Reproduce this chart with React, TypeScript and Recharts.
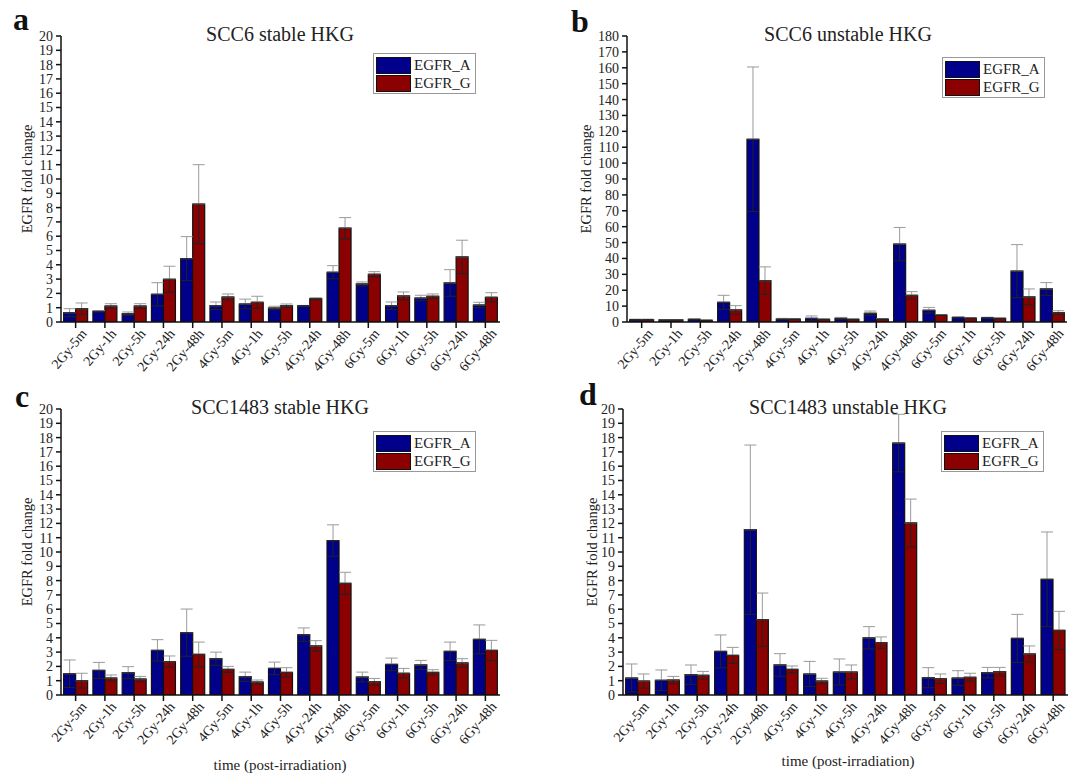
import { BarChart, Bar, XAxis, YAxis, Legend, ErrorBar } from "recharts";

const FONT = '"Liberation Serif", "Times New Roman", serif';
const BLUE = "#00008b";
const RED = "#8b0000";

const categories = [
  "2Gy-5m", "2Gy-1h", "2Gy-5h", "2Gy-24h", "2Gy-48h",
  "4Gy-5m", "4Gy-1h", "4Gy-5h", "4Gy-24h", "4Gy-48h",
  "6Gy-5m", "6Gy-1h", "6Gy-5h", "6Gy-24h", "6Gy-48h",
];

const ticks20 = [0, 1, 2, 3, 4, 5, 6, 7, 8, 9, 10, 11, 12, 13, 14, 15, 16, 17, 18, 19, 20];
const ticks180 = [0, 10, 20, 30, 40, 50, 60, 70, 80, 90, 100, 110, 120, 130, 140, 150, 160, 170, 180];

// a: SCC6 stable HKG
const aMeanA = [0.65, 0.75, 0.58, 1.94, 4.43, 1.14, 1.26, 0.98, 1.14, 3.48, 2.66, 1.14, 1.68, 2.73, 1.19];
const aErrA = [0.28, 0.05, 0.12, 0.81, 1.54, 0.26, 0.34, 0.12, 0.02, 0.46, 0.14, 0.26, 0.19, 0.93, 0.19];
const aMeanG = [0.93, 1.12, 1.12, 2.99, 8.24, 1.75, 1.38, 1.14, 1.63, 6.56, 3.34, 1.82, 1.8, 4.55, 1.73];
const aErrG = [0.4, 0.16, 0.16, 0.91, 2.76, 0.21, 0.42, 0.12, 0.07, 0.74, 0.18, 0.28, 0.16, 1.17, 0.32];

// b: SCC6 unstable HKG
const bMeanA = [1.5, 1.3, 1.7, 12.4, 115, 1.9, 2.3, 2.3, 5.5, 49, 7.4, 2.9, 2.7, 32, 20.8];
const bErrA = [0.3, 0.2, 0.3, 4.4, 45.5, 0.4, 1.5, 0.6, 1.4, 10.5, 1.8, 0.3, 0.3, 16.7, 4.0];
const bMeanG = [1.5, 1.3, 1.1, 7.6, 26, 1.9, 1.7, 1.7, 1.9, 16.8, 4.4, 2.5, 2.3, 15.8, 5.9];
const bErrG = [0.3, 0.2, 0.2, 2.7, 8.7, 0.3, 0.3, 0.3, 0.3, 2.3, 0.3, 0.3, 0.3, 5.0, 1.2];

// c: SCC1483 stable HKG
const cMeanA = [1.49, 1.72, 1.56, 3.12, 4.36, 2.54, 1.28, 1.86, 4.22, 10.8, 1.26, 2.14, 2.1, 3.05, 3.89];
const cErrA = [0.96, 0.56, 0.42, 0.75, 1.65, 0.46, 0.32, 0.44, 0.47, 1.1, 0.34, 0.44, 0.32, 0.65, 1.01];
const cMeanG = [1.0, 1.19, 1.12, 2.33, 2.84, 1.79, 0.91, 1.58, 3.43, 7.81, 0.93, 1.52, 1.58, 2.24, 3.12];
const cErrG = [0.52, 0.21, 0.18, 0.4, 0.86, 0.21, 0.14, 0.33, 0.37, 0.77, 0.23, 0.34, 0.19, 0.3, 0.7];

// d: SCC1483 unstable HKG
const dMeanA = [1.19, 1.03, 1.42, 3.05, 11.56, 2.1, 1.47, 1.61, 4.0, 17.62, 1.21, 1.19, 1.56, 3.96, 8.09];
const dErrA = [0.98, 0.72, 0.68, 1.15, 5.92, 0.79, 0.88, 0.91, 0.78, 2.01, 0.7, 0.51, 0.37, 1.68, 3.31];
const dMeanG = [0.98, 1.05, 1.38, 2.77, 5.27, 1.79, 0.98, 1.61, 3.66, 12.03, 1.14, 1.24, 1.63, 2.87, 4.52];
const dErrG = [0.49, 0.25, 0.27, 0.56, 1.86, 0.24, 0.19, 0.49, 0.4, 1.67, 0.33, 0.28, 0.3, 0.56, 1.33];

const series = [
  { name: "EGFR_A", color: BLUE },
  { name: "EGFR_G", color: RED },
];

const buildRows = (ma: number[], ea: number[], mg: number[], eg: number[]) =>
  categories.map((cat, i) => ({
    cat,
    a: ma[i],
    g: mg[i],
    aUp: [0, ea[i]],
    aDown: [ea[i], 0],
    gUp: [0, eg[i]],
    gDown: [eg[i], 0],
  }));

const RotTick = (props: any) => {
  const { x, y, payload } = props;
  const tx = x + 12;
  const ty = y + 4;
  return (
    <g>
      <text
        x={tx}
        y={ty}
        transform={`rotate(-50 ${tx} ${ty})`}
        textAnchor="end"
        fontSize={14}
        fontFamily={FONT}
        fill="#222"
      >
        {payload.value}
      </text>
    </g>
  );
};

const BoxLegend = () => (
  <div
    style={{
      border: "1px solid #999",
      background: "#fff",
      padding: "2px 4px 1px 2px",
      width: 95,
    }}
  >
    {series.map((s) => (
      <div key={s.name} style={{ display: "flex", alignItems: "center", height: 18 }}>
        <span
          style={{
            display: "inline-block",
            width: 35,
            height: 17,
            background: s.color,
            border: "1.5px solid #111",
            boxSizing: "border-box",
          }}
        />
        <span style={{ marginLeft: 3, fontSize: 15, fontFamily: FONT, color: "#222", lineHeight: "18px" }}>
          {s.name}
        </span>
      </div>
    ))}
  </div>
);

type PanelProps = {
  left: number;
  top: number;
  width: number;
  height: number;
  plotLeft: number;
  plotRight: number;
  plotTop: number;
  plotBottom: number;
  yMax: number;
  yTicks: number[];
  rows: any[];
  legendX: number;
  legendY: number;
};

const Panel = (p: PanelProps) => (
  <div style={{ position: "absolute", left: p.left, top: p.top }}>
    <BarChart
      width={p.width}
      height={p.height}
      data={p.rows}
      margin={{ top: p.plotTop - p.top, right: p.left + p.width - p.plotRight, left: 0, bottom: 0 }}
      barCategoryGap="9%"
      barGap={0}
    >
      <XAxis
        dataKey="cat"
        interval={0}
        height={p.top + p.height - p.plotBottom}
        tick={RotTick}
        tickSize={6}
        tickMargin={2}
        tickLine={{ stroke: "#111", strokeWidth: 1.5 }}
        axisLine={{ stroke: "#111", strokeWidth: 1.5 }}
      />
      <YAxis
        width={p.plotLeft - p.left}
        domain={[0, p.yMax]}
        ticks={p.yTicks}
        interval={0}
        allowDataOverflow
        tickSize={5}
        tickMargin={3}
        tick={{ fontSize: 14, fill: "#222", fontFamily: FONT }}
        tickLine={{ stroke: "#111", strokeWidth: 1.5 }}
        axisLine={{ stroke: "#111", strokeWidth: 1.5 }}
      />
      <Legend
        content={BoxLegend}
        layout="vertical"
        align="center"
        verticalAlign="middle"
        wrapperStyle={{ left: p.legendX - p.left, top: p.legendY - p.top, width: "auto", height: "auto" }}
      />
      <Bar dataKey="a" name="EGFR_A" fill={BLUE} stroke="#111" strokeWidth={1.2} isAnimationActive={false}>
        <ErrorBar dataKey="aUp" width={6} stroke="#9a9a9a" strokeWidth={1} isAnimationActive={false} />
        <ErrorBar dataKey="aDown" width={6} stroke="#222" strokeWidth={1} isAnimationActive={false} />
      </Bar>
      <Bar dataKey="g" name="EGFR_G" fill={RED} stroke="#111" strokeWidth={1.2} isAnimationActive={false}>
        <ErrorBar dataKey="gUp" width={6} stroke="#9a9a9a" strokeWidth={1} isAnimationActive={false} />
        <ErrorBar dataKey="gDown" width={6} stroke="#222" strokeWidth={1} isAnimationActive={false} />
      </Bar>
    </BarChart>
  </div>
);

const titles = [
  { text: "SCC6 stable HKG", x: 280, y: 41 },
  { text: "SCC6 unstable HKG", x: 848, y: 41 },
  { text: "SCC1483 stable HKG", x: 280, y: 414 },
  { text: "SCC1483 unstable HKG", x: 848, y: 414 },
];

const letters = [
  { text: "a", x: 13, y: 30 },
  { text: "b", x: 571, y: 32 },
  { text: "c", x: 15, y: 407 },
  { text: "d", x: 579, y: 405 },
];

const yLabels = [
  { x: 27, y: 179 },
  { x: 586, y: 179 },
  { x: 27, y: 552 },
  { x: 592, y: 552 },
];

const xLabels = [
  { x: 280, y: 770 },
  { x: 848, y: 766 },
];

export default function App() {
  return (
    <div style={{ position: "absolute", left: 0, top: 0, width: 1072, height: 775, background: "#fff" }}>
      <Panel
        left={0} top={0} width={520} height={390}
        plotLeft={61} plotRight={500} plotTop={36} plotBottom={322}
        yMax={20} yTicks={ticks20}
        rows={buildRows(aMeanA, aErrA, aMeanG, aErrG)}
        legendX={373} legendY={53}
      />
      <Panel
        left={530} top={0} width={542} height={390}
        plotLeft={627} plotRight={1067} plotTop={36} plotBottom={322}
        yMax={180} yTicks={ticks180}
        rows={buildRows(bMeanA, bErrA, bMeanG, bErrG)}
        legendX={942} legendY={57}
      />
      <Panel
        left={0} top={390} width={520} height={385}
        plotLeft={61} plotRight={500} plotTop={409} plotBottom={695}
        yMax={20} yTicks={ticks20}
        rows={buildRows(cMeanA, cErrA, cMeanG, cErrG)}
        legendX={373} legendY={431}
      />
      <Panel
        left={530} top={390} width={542} height={385}
        plotLeft={623} plotRight={1068} plotTop={409} plotBottom={695}
        yMax={20} yTicks={ticks20}
        rows={buildRows(dMeanA, dErrA, dMeanG, dErrG)}
        legendX={941} legendY={431}
      />
      <svg
        width={1072}
        height={775}
        style={{ position: "absolute", left: 0, top: 0, pointerEvents: "none" }}
        fontFamily={FONT}
      >
        {titles.map((t) => (
          <text key={t.text} x={t.x} y={t.y} textAnchor="middle" fontSize={20} fill="#222">
            {t.text}
          </text>
        ))}
        {letters.map((l) => (
          <text key={l.text} x={l.x} y={l.y} fontSize={32} fontWeight="bold" fill="#111">
            {l.text}
          </text>
        ))}
        {yLabels.map((l, i) => (
          <text
            key={i}
            x={l.x}
            y={l.y}
            transform={`rotate(-90 ${l.x} ${l.y})`}
            textAnchor="middle"
            dominantBaseline="central"
            fontSize={14.5}
            fill="#222"
          >
            EGFR fold change
          </text>
        ))}
        {xLabels.map((l, i) => (
          <text key={i} x={l.x} y={l.y} textAnchor="middle" fontSize={15} fill="#222">
            time (post-irradiation)
          </text>
        ))}
      </svg>
    </div>
  );
}
